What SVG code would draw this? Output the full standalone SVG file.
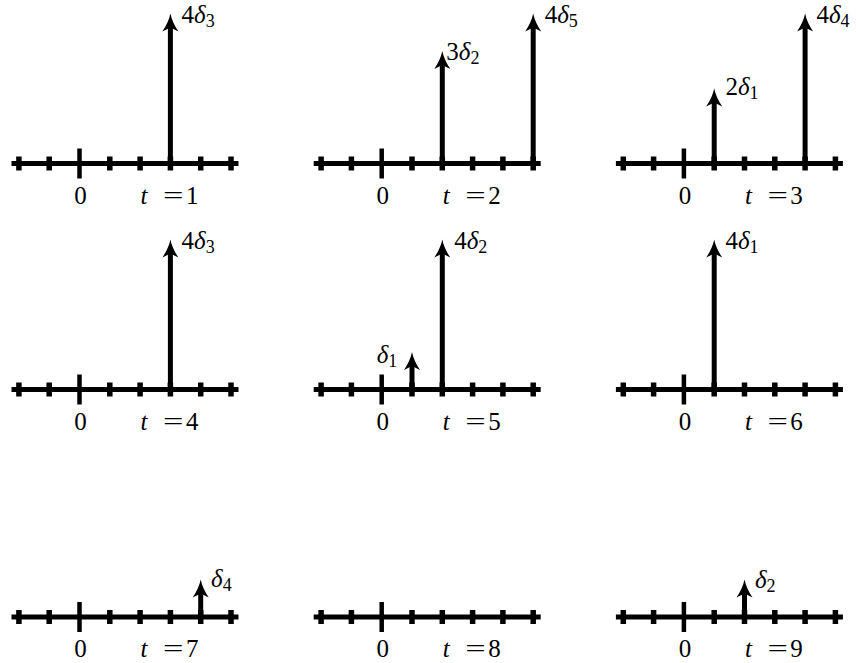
<svg xmlns="http://www.w3.org/2000/svg" width="856" height="663" viewBox="0 0 856 663">
<style>
  .ax { stroke:#000; stroke-width:5; fill:none; }
  .tk { stroke:#000; stroke-width:5.5; }
  .tz { stroke:#000; stroke-width:4.5; }
  .imp { stroke:#000; stroke-width:5; fill:none; marker-end:url(#ah); }
  .it { font-style:italic; }
  .sub { font-size:18px; font-style:normal; }
  .mid { text-anchor:middle; }
</style>
<defs>
  <marker id="ah" markerUnits="userSpaceOnUse" viewBox="0 -10 20 20" markerWidth="20" markerHeight="20" refX="5" refY="0" orient="auto">
    <path d="M18,0 C12,-1.2 6,-4 0,-8 L4,0 L0,8 C6,4 12,1.2 18,0 Z" fill="#000"/>
  </marker>
  <g id="axis">
    <line class="ax" x1="-68" y1="0" x2="159" y2="0"/>
    <line class="tk" x1="-60.6" y1="-7" x2="-60.6" y2="7"/>
    <line class="tk" x1="-30.3" y1="-7" x2="-30.3" y2="7"/>
    <line class="tz" x1="0" y1="-15" x2="0" y2="15"/>
    <line class="tk" x1="30.3" y1="-7" x2="30.3" y2="7"/>
    <line class="tk" x1="60.6" y1="-7" x2="60.6" y2="7"/>
    <line class="tk" x1="90.9" y1="-7" x2="90.9" y2="7"/>
    <line class="tk" x1="121.2" y1="-7" x2="121.2" y2="7"/>
    <line class="tk" x1="151.5" y1="-7" x2="151.5" y2="7"/>
    <text class="mid" x="1" y="40" font-family="Liberation Serif, serif" font-size="25">0</text>
    <text class="it" x="61" y="40" font-family="Liberation Serif, serif" font-size="25">t</text>
    <text class="mid" transform="translate(93.7,40) scale(1.45,1)" font-family="Liberation Serif, serif" font-size="25">=</text>
  </g>
</defs>

<g font-family="Liberation Serif, serif" font-size="25" fill="#000">
<g id="panel-1" transform="translate(79.5,163.5)">
  <use href="#axis"/>
  <text class="mid" x="112.7" y="40">1</text>
  <line class="imp" x1="90.9" y1="0" x2="90.9" y2="-137"/>
  <text x="102" y="-141">4<tspan class="it">δ</tspan><tspan class="sub" dy="4">3</tspan></text>
</g>

<g id="panel-2" transform="translate(381.7,163.5)">
  <use href="#axis"/>
  <text class="mid" x="112.7" y="40">2</text>
  <line class="imp" x1="60.6" y1="0" x2="60.6" y2="-99.5"/>
  <text x="64.6" y="-103.5">3<tspan class="it">δ</tspan><tspan class="sub" dy="4">2</tspan></text>
  <line class="imp" x1="151.5" y1="0" x2="151.5" y2="-137"/>
  <text x="163" y="-141">4<tspan class="it">δ</tspan><tspan class="sub" dy="4">5</tspan></text>
</g>

<g id="panel-3" transform="translate(683.9,163.5)">
  <use href="#axis"/>
  <text class="mid" x="112.7" y="40">3</text>
  <line class="imp" x1="30.3" y1="0" x2="30.3" y2="-62"/>
  <text x="41.5" y="-68.5">2<tspan class="it">δ</tspan><tspan class="sub" dy="4">1</tspan></text>
  <line class="imp" x1="121.2" y1="0" x2="121.2" y2="-137"/>
  <text x="132.5" y="-141">4<tspan class="it">δ</tspan><tspan class="sub" dy="4">4</tspan></text>
</g>

<g id="panel-4" transform="translate(79.5,389.5)">
  <use href="#axis"/>
  <text class="mid" x="112.7" y="40">4</text>
  <line class="imp" x1="90.9" y1="0" x2="90.9" y2="-137"/>
  <text x="102" y="-141">4<tspan class="it">δ</tspan><tspan class="sub" dy="4">3</tspan></text>
</g>

<g id="panel-5" transform="translate(381.7,389.5)">
  <use href="#axis"/>
  <text class="mid" x="112.7" y="40">5</text>
  <line class="imp" x1="30.3" y1="0" x2="30.3" y2="-24.5"/>
  <text x="-5" y="-26.5"><tspan class="it">δ</tspan><tspan class="sub" dy="4">1</tspan></text>
  <line class="imp" x1="60.6" y1="0" x2="60.6" y2="-137"/>
  <text x="72.5" y="-141">4<tspan class="it">δ</tspan><tspan class="sub" dy="4">2</tspan></text>
</g>

<g id="panel-6" transform="translate(683.9,389.5)">
  <use href="#axis"/>
  <text class="mid" x="112.7" y="40">6</text>
  <line class="imp" x1="30.3" y1="0" x2="30.3" y2="-137"/>
  <text x="41.5" y="-141">4<tspan class="it">δ</tspan><tspan class="sub" dy="4">1</tspan></text>
</g>

<g id="panel-7" transform="translate(79.5,617)">
  <use href="#axis"/>
  <text class="mid" x="112.7" y="40">7</text>
  <line class="imp" x1="121.2" y1="0" x2="121.2" y2="-24.5"/>
  <text x="131.5" y="-30"><tspan class="it">δ</tspan><tspan class="sub" dy="4">4</tspan></text>
</g>

<g id="panel-8" transform="translate(381.7,617)">
  <use href="#axis"/>
  <text class="mid" x="112.7" y="40">8</text>
</g>

<g id="panel-9" transform="translate(683.9,617)">
  <use href="#axis"/>
  <text class="mid" x="112.7" y="40">9</text>
  <line class="imp" x1="60.6" y1="0" x2="60.6" y2="-24.5"/>
  <text x="71" y="-29"><tspan class="it">δ</tspan><tspan class="sub" dy="4">2</tspan></text>
</g>
</g>
</svg>
